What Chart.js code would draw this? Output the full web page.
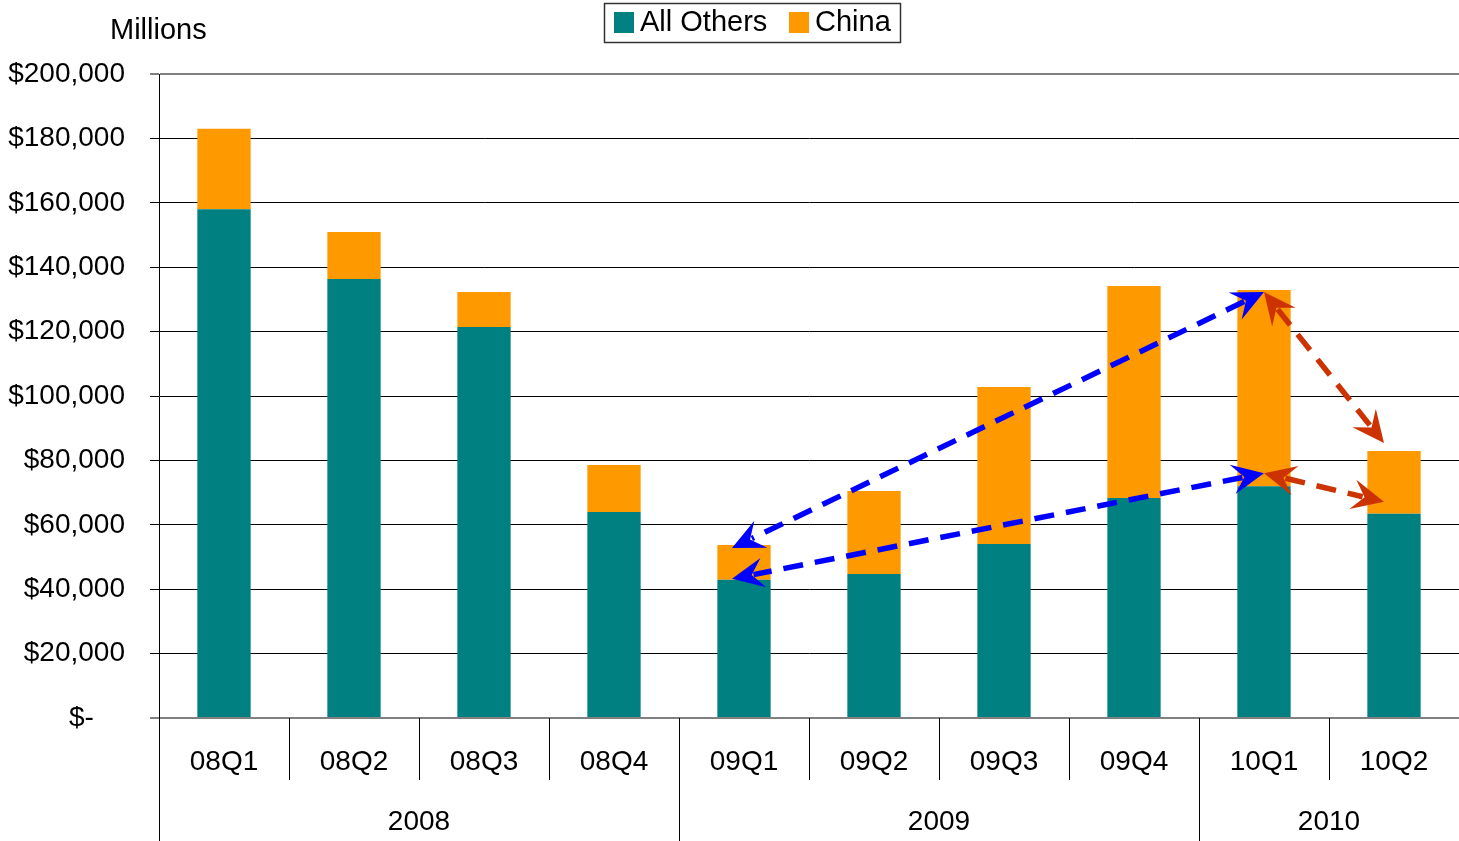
<!DOCTYPE html>
<html>
<head>
<meta charset="utf-8">
<script src="https://cdn.jsdelivr.net/npm/chart.js@4/dist/chart.umd.min.js"></script>
<style>
  body { margin: 0; background: #fff; }
  #wrap { width: 1459px; height: 841px; position: relative; }
</style>
</head>
<body>
<div id="wrap"><canvas id="chinaChart"></canvas></div>
<script>
const quarters = ['08Q1', '08Q2', '08Q3', '08Q4', '09Q1', '09Q2', '09Q3', '09Q4', '10Q1', '10Q2'];
const years = ['2008', '2009', '2010'];
const yearSpans = [4, 4, 2];
const allOthers = [158000, 136300, 121400, 64000, 42900, 44700, 54000, 68300, 72000, 63400];
const china = [25000, 14600, 10900, 14600, 10800, 25800, 48800, 65900, 60900, 19500];

// dashed double arrows between bars (total = top of stack, others = top of teal part)
const arrows = [
    { from: '10Q1', to: '09Q1', level: 'total', color: '#0000FF', fromDy: 2, toDx: -12, toDy: 3 },
    { from: '10Q1', to: '09Q1', level: 'others', color: '#0000FF', fromDy: -13, toDx: -12, toDy: -1 },
    { from: '10Q1', to: '10Q2', level: 'total', color: '#CC3300', fromDy: 2, toDx: -10, toDy: -8 },
    { from: '10Q1', to: '10Q2', level: 'others', color: '#CC3300', fromDy: -13, toDx: -10, toDy: -12 },
];

const FONT = '"Liberation Sans", Arial, sans-serif';

function levelValue(q, level) {
    const i = quarters.indexOf(q);
    return level === 'total' ? allOthers[i] + china[i] : allOthers[i];
}

function arrowHead(ctx, x, y, ang, color) {
    const len = 32, half = 15, notch = 20;
    ctx.save();
    ctx.translate(x, y);
    ctx.rotate(ang);
    ctx.fillStyle = color;
    ctx.beginPath();
    ctx.moveTo(0, 0);
    ctx.lineTo(-len, -half);
    ctx.lineTo(-notch, 0);
    ctx.lineTo(-len, half);
    ctx.closePath();
    ctx.fill();
    ctx.restore();
}

const extras = {
    id: 'extras',
    afterDraw(chart) {
        const ctx = chart.ctx;
        const area = chart.chartArea;
        const step = (area.right - area.left) / quarters.length;

        // category separators under the axis
        ctx.save();
        ctx.strokeStyle = '#000';
        ctx.lineWidth = 1;
        let yearStarts = [0];
        let acc = 0;
        yearSpans.forEach(s => { acc += s; yearStarts.push(acc); });
        for (let i = 0; i < quarters.length; i++) {
            const x = Math.round(area.left + i * step) + 0.5;
            const isYear = yearStarts.includes(i);
            ctx.beginPath();
            ctx.moveTo(x, area.bottom);
            ctx.lineTo(x, isYear ? 841 : area.bottom + 62);
            ctx.stroke();
        }
        // year labels
        ctx.fillStyle = '#000';
        ctx.font = '28px ' + FONT;
        ctx.textAlign = 'center';
        ctx.textBaseline = 'middle';
        years.forEach((yr, k) => {
            const x0 = area.left + yearStarts[k] * step;
            const x1 = area.left + yearStarts[k + 1] * step;
            ctx.fillText(yr, (x0 + x1) / 2, area.bottom + 104);
        });

        // "Millions"
        ctx.font = '29px ' + FONT;
        ctx.textAlign = 'left';
        ctx.fillText('Millions', 110, 31);

        // legend
        ctx.strokeStyle = '#333';
        ctx.lineWidth = 1.5;
        ctx.strokeRect(604.5, 3.5, 296, 39);
        ctx.fillStyle = '#008080';
        ctx.fillRect(614, 12, 20, 21);
        ctx.fillStyle = '#FF9900';
        ctx.fillRect(789, 12, 20, 21);
        ctx.fillStyle = '#000';
        ctx.fillText('All Others', 640, 23);
        ctx.fillText('China', 815, 23);
        ctx.restore();
    },
    afterDatasetsDraw(chart) {
        const ctx = chart.ctx;
        const xs = chart.scales.x, ys = chart.scales.y;
        ctx.save();
        arrows.forEach(a => {
            const x1 = xs.getPixelForValue(quarters.indexOf(a.from)) + (a.fromDx || 0);
            const y1 = ys.getPixelForValue(levelValue(a.from, a.level)) + (a.fromDy || 0);
            const x2 = xs.getPixelForValue(quarters.indexOf(a.to)) + (a.toDx || 0);
            const y2 = ys.getPixelForValue(levelValue(a.to, a.level)) + (a.toDy || 0);
            const ang = Math.atan2(y2 - y1, x2 - x1);
            const cut = 22;
            ctx.strokeStyle = a.color;
            ctx.lineWidth = 5.5;
            ctx.setLineDash([20, 12]);
            ctx.beginPath();
            ctx.moveTo(x1 + Math.cos(ang) * cut, y1 + Math.sin(ang) * cut);
            ctx.lineTo(x2 - Math.cos(ang) * cut, y2 - Math.sin(ang) * cut);
            ctx.stroke();
            ctx.setLineDash([]);
            arrowHead(ctx, x2, y2, ang, a.color);
            arrowHead(ctx, x1, y1, ang + Math.PI, a.color);
        });
        ctx.restore();
    }
};

new Chart(document.getElementById('chinaChart').getContext('2d'), {
    type: 'bar',
    data: {
        labels: quarters,
        datasets: [{
            label: 'All Others',
            data: allOthers,
            backgroundColor: '#008080',
            categoryPercentage: 1,
            barPercentage: 0.41,
        }, {
            label: 'China',
            data: china,
            backgroundColor: '#FF9900',
            categoryPercentage: 1,
            barPercentage: 0.41,
        }],
    },
    options: {
        responsive: true,
        maintainAspectRatio: false,
        animation: false,
        layout: { padding: { top: 74, right: 0, left: 0, bottom: 0 } },
        plugins: {
            legend: { display: false },
            tooltip: { enabled: false },
        },
        scales: {
            x: {
                stacked: true,
                grid: { display: false, drawTicks: false },
                border: { display: false },
                ticks: {
                    color: '#000',
                    font: { family: FONT, size: 28 },
                    padding: 27,
                    maxRotation: 0,
                },
                afterFit(scale) { scale.height = 123; },
            },
            y: {
                stacked: true,
                min: 0,
                max: 200000,
                grid: {
                    color: ctx => (ctx.index === 0 || ctx.index === 10) ? '#808080' : '#000',
                    lineWidth: ctx => (ctx.index === 0 || ctx.index === 10) ? 2 : 1,
                    tickLength: 9,
                },
                border: { color: '#000', width: 1 },
                ticks: {
                    stepSize: 20000,
                    color: '#000',
                    padding: 25,
                    font: { family: FONT, size: 28 },
                    callback: v => v === 0 ? '$-    ' : '$' + v.toLocaleString('en-US'),
                },
                afterFit(scale) { scale.width = 159; },
            }
        }
    },
    plugins: [extras]
});
</script>
</body>
</html>
